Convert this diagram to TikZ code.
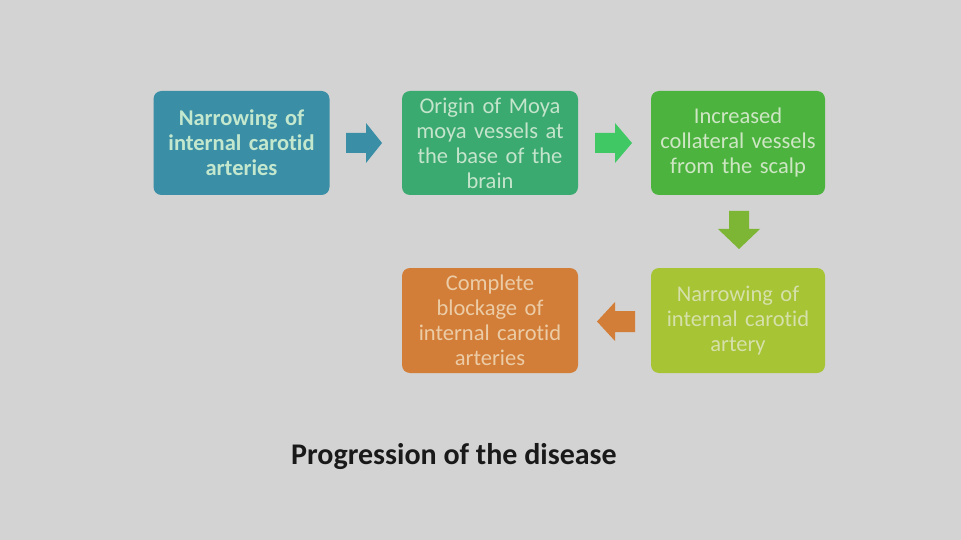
\documentclass[tikz,border=0pt]{standalone}
\usepackage{fontspec}
\setmainfont[Ligatures={NoCommon}]{Carlito}
\definecolor{bg}{RGB}{211,211,211}
\definecolor{cA}{RGB}{58,142,166}
\definecolor{cB}{RGB}{58,170,112}
\definecolor{cC}{RGB}{76,180,62}
\definecolor{cD}{RGB}{166,196,52}
\definecolor{cE}{RGB}{210,126,56}
\definecolor{tA}{RGB}{196,232,206}
\definecolor{tB}{RGB}{196,228,204}
\definecolor{tC}{RGB}{206,230,196}
\definecolor{tD}{RGB}{214,224,170}
\definecolor{tE}{RGB}{236,204,166}
\definecolor{aB}{RGB}{64,200,100}
\definecolor{aC}{RGB}{124,182,52}
\tikzset{
  stepbox/.style={rounded corners=8pt, minimum width=176pt, minimum height=104pt,
    inner sep=0pt, align=center, text width=174pt,
    font=\fontsize{22.5}{25}\selectfont}
}
\begin{document}
\begin{tikzpicture}[x=1pt,y=-1pt]
\fill[bg] (0,0) rectangle (961,540);
\useasboundingbox (0,0) rectangle (961,540);
\node[stepbox, fill=cA, text=tA, font=\fontsize{22.5}{25}\selectfont\bfseries] (b1) at (241.5,143) {Narrowing of\\internal carotid\\arteries};
\node[stepbox, fill=cB, text=tB] (b2) at (490,143) {Origin of Moya\\moya vessels at\\the base of the\\brain};
\node[stepbox, fill=cC, text=tC, minimum width=174pt] (b3) at (738,143) {Increased\\collateral vessels\\from the scalp};
\node[stepbox, fill=cD, text=tD, minimum width=174pt, minimum height=105pt] (b4) at (738,320.5) {Narrowing of\\internal carotid\\artery};
\node[stepbox, fill=cE, text=tE, minimum height=105pt] (b5) at (490,320.5) {Complete\\blockage of\\internal carotid\\arteries};
% block arrows
\fill[cA] (346,133) -- (366,133) -- (366,123) -- (382,143) -- (366,163) -- (366,153) -- (346,153) -- cycle;
\fill[aB] (595,133) -- (615,133) -- (615,123) -- (632,143) -- (615,163) -- (615,153) -- (595,153) -- cycle;
\fill[aC] (729,211) -- (749,211) -- (749,229) -- (760,229) -- (739,249) -- (718,229) -- (729,229) -- cycle;
\fill[cE] (635,311) -- (615,311) -- (615,302) -- (597,321.5) -- (615,341) -- (615,332) -- (635,332) -- cycle;
\node[font=\fontsize{30}{36}\selectfont\bfseries, text=black!90] (title) at (454,457) {Progression of the disease};
\end{tikzpicture}
\end{document}
